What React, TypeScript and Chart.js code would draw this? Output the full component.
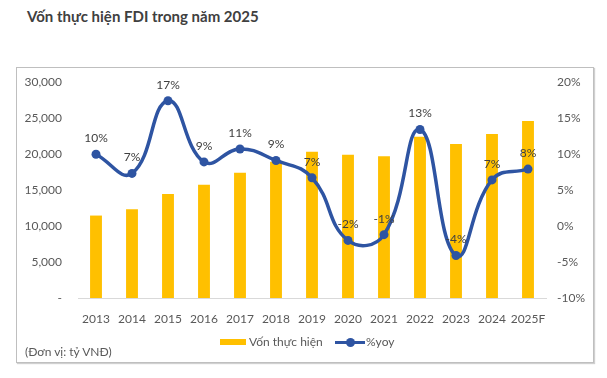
import React, { useEffect, useRef } from "react";
import { Chart, registerables } from "chart.js";

Chart.register(...registerables);

const years = ["2013", "2014", "2015", "2016", "2017", "2018", "2019", "2020", "2021", "2022", "2023", "2024", "2025F"];
const capital = [11450, 12320, 14440, 15740, 17400, 18930, 20320, 19900, 19680, 22400, 21390, 22780, 24580];
const yoy = [9.96, 7.3, 17.4, 8.9, 10.7, 9.1, 6.7, -2.0, -1.2, 13.4, -4.1, 6.4, 7.9];
const yoyLabels = ["10%", "7%", "17%", "9%", "11%", "9%", "7%", "-2%", "-1%", "13%", "-4%", "7%", "8%"];

const FONT = "Lato, 'Open Sans', sans-serif";
const BAR = "#FFC000";
const LINE = "#2E54A2";
const TICK = "#595959";

const labelPlugin = {
  id: "yoyLabels",
  afterDatasetsDraw(chart: any) {
    const meta = chart.getDatasetMeta(1);
    const ctx = chart.ctx;
    ctx.save();
    ctx.font = `12px ${FONT}`;
    ctx.fillStyle = "#404040";
    ctx.textAlign = "center";
    ctx.textBaseline = "middle";
    meta.data.forEach((pt: any, i: number) => {
      ctx.fillText(yoyLabels[i], pt.x, pt.y - 16);
    });
    ctx.restore();
  },
};

export default function App() {
  const ref = useRef<HTMLCanvasElement | null>(null);
  useEffect(() => {
    if (!ref.current) return;
    const chart = new Chart(ref.current, {
      type: "bar",
      data: {
        labels: years,
        datasets: [
          {
            type: "bar",
            label: "Vốn thực hiện",
            data: capital,
            backgroundColor: BAR,
            yAxisID: "y",
            order: 1,
            categoryPercentage: 0.6,
            barPercentage: 0.55,
          },
          {
            type: "line",
            label: "%yoy",
            data: yoy,
            borderColor: LINE,
            backgroundColor: LINE,
            borderWidth: 3.5,
            pointRadius: 4.5,
            pointBackgroundColor: LINE,
            pointBorderWidth: 0,
            tension: 0.45,
            yAxisID: "y1",
            order: 0,
          } as any,
        ],
      },
      options: {
        animation: false,
        responsive: false,
        maintainAspectRatio: false,
        layout: { padding: { top: 82, left: 0, right: 0, bottom: 0 } },
        plugins: {
          legend: { display: false },
          tooltip: { enabled: false },
        },
        scales: {
          x: {
            grid: { display: false, drawTicks: false },
            border: { display: true, color: "#D9D9D9", width: 1 },
            ticks: {
              color: TICK,
              font: { family: FONT, size: 12 },
              padding: 14,
              maxRotation: 0,
              autoSkip: false,
            },
            afterFit(s: any) {
              s.height = 80;
            },
          },
          y: {
            position: "left",
            min: 0,
            max: 30000,
            grid: { display: false, drawTicks: false },
            border: { display: false },
            ticks: {
              stepSize: 5000,
              color: TICK,
              font: { family: FONT, size: 12 },
              padding: 16,
              callback: (v: any) => (v === 0 ? "-" : Number(v).toLocaleString("en-US")),
            },
            afterFit(s: any) {
              s.width = 78;
            },
          },
          y1: {
            position: "right",
            min: -10,
            max: 20,
            grid: { display: false, drawTicks: false },
            border: { display: false },
            ticks: {
              stepSize: 5,
              color: TICK,
              font: { family: FONT, size: 12 },
              padding: 11,
              callback: (v: any) => `${v}%`,
            },
            afterFit(s: any) {
              s.width = 61;
            },
          },
        },
      },
      plugins: [labelPlugin],
    });
    return () => chart.destroy();
  }, []);

  return (
    <div style={{ position: "fixed", left: 0, top: 0, width: 607, height: 378, background: "#fff", fontFamily: FONT }}>
      <div
        style={{
          position: "absolute",
          left: 27,
          top: 6,
          fontSize: 15,
          fontWeight: 700,
          color: "#404040",
          whiteSpace: "nowrap",
          lineHeight: "20px",
        }}
      >
        Vốn thực hiện FDI trong năm 2025
      </div>
      <div
        style={{
          position: "absolute",
          left: 16,
          top: 67,
          width: 576,
          height: 294,
          border: "1px solid #BFBFBF",
          boxShadow: "1px 1px 1px #D0D0D0",
        }}
      />
      <canvas ref={ref} width={607} height={378} style={{ position: "absolute", left: 0, top: 0 }} />
      <div style={{ position: "absolute", left: 220, top: 339, width: 26, height: 6, background: BAR }} />
      <div style={{ position: "absolute", left: 249, top: 334, fontSize: 12, color: TICK, lineHeight: "16px", whiteSpace: "nowrap" }}>
        Vốn thực hiện
      </div>
      <div style={{ position: "absolute", left: 335, top: 341, width: 30, height: 3, background: LINE }} />
      <div style={{ position: "absolute", left: 346, top: 338, width: 9, height: 9, borderRadius: "50%", background: LINE }} />
      <div style={{ position: "absolute", left: 366, top: 334, fontSize: 12, color: TICK, lineHeight: "16px", whiteSpace: "nowrap" }}>
        %yoy
      </div>
      <div style={{ position: "absolute", left: 25, top: 344, fontSize: 12, color: TICK, lineHeight: "16px", whiteSpace: "nowrap" }}>
        (Đơn vị: tỷ VNĐ)
      </div>
    </div>
  );
}
